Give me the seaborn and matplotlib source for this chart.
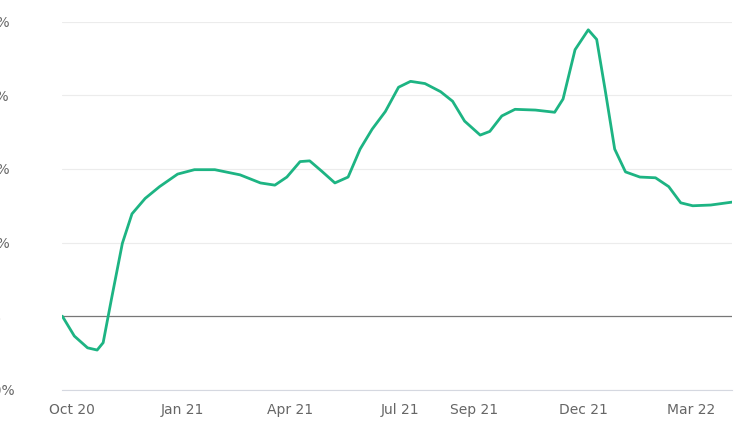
import pandas as pd
import numpy as np
import seaborn as sns
import matplotlib.pyplot as plt
import matplotlib.dates as mdates
from matplotlib.ticker import FuncFormatter

# values
dates = ['2020-09-23', '2020-10-03', '2020-10-14', '2020-10-22', '2020-10-27', '2020-11-03',
         '2020-11-12', '2020-11-20', '2020-12-01', '2020-12-13', '2020-12-28', '2021-01-11',
         '2021-01-28', '2021-02-18', '2021-03-07', '2021-03-19', '2021-03-29', '2021-04-09',
         '2021-04-17', '2021-04-27', '2021-05-08', '2021-05-19', '2021-05-29', '2021-06-08',
         '2021-06-19', '2021-06-30', '2021-07-10', '2021-07-22', '2021-08-04', '2021-08-14',
         '2021-08-24', '2021-09-06', '2021-09-14', '2021-09-24', '2021-10-05', '2021-10-22',
         '2021-11-07', '2021-11-14', '2021-11-24', '2021-12-05', '2021-12-12', '2021-12-19',
         '2021-12-27', '2022-01-05', '2022-01-17', '2022-01-30', '2022-02-10', '2022-02-20',
         '2022-03-02', '2022-03-17', '2022-04-04']
values = [0, -2.7, -4.3, -4.6, -3.6, 2.4, 9.9, 13.9, 16, 17.6, 19.3, 19.9,
          19.9, 19.2, 18.1, 17.8, 18.9, 21, 21.1, 19.7, 18.1, 18.9, 22.7, 25.4,
          27.8, 31.1, 31.9, 31.6, 30.5, 29.2, 26.5, 24.6, 25.1, 27.2, 28.1, 28,
          27.7, 29.5, 36.2, 38.9, 37.6, 30.8, 22.7, 19.6, 18.9, 18.8, 17.6, 15.4,
          15, 15.1, 15.5]
tick_dates = ['2020-10-01', '2021-01-01', '2021-04-01', '2021-07-01', '2021-09-01', '2021-12-01', '2022-03-01']
tick_labels = ['Oct 20', 'Jan 21', 'Apr 21', 'Jul 21', 'Sep 21', 'Dec 21', 'Mar 22']
y_ticks = [-10, 0, 10, 20, 30, 40]

df = pd.DataFrame({'date': pd.to_datetime(dates), 'value': values})

sns.set_style('white')
fig = plt.figure(figsize=(7.42, 4.26), dpi=100)
ax = fig.add_axes([0.084, 0.085, 0.903, 0.864])

for t in y_ticks:
    ax.axhline(t, color='#777777' if t == 0 else '#ececec', lw=0.9 if t == 0 else 0.8, zorder=0)

sns.lineplot(data=df, x='date', y='value', ax=ax, color='#1db483', lw=2.0,
             solid_joinstyle='round', solid_capstyle='round')

ax.set_xlim(df['date'].iloc[0], df['date'].iloc[-1])
ax.set_ylim(-10, 40)
ax.set_yticks(y_ticks)
ax.yaxis.set_major_formatter(FuncFormatter(lambda v, p: f'{v:.0f}%'))
for lab in ax.get_yticklabels():
    lab.set_horizontalalignment('left')
ax.set_xticks(pd.to_datetime(tick_dates))
ax.set_xticklabels(tick_labels)
ax.set_xlabel('')
ax.set_ylabel('')

for s in ['top', 'right', 'left']:
    ax.spines[s].set_visible(False)
ax.spines['bottom'].set_color('#d5d8e0')
ax.tick_params(axis='x', colors='#d5d8e0', labelcolor='#666666', length=6, labelsize=10)
ax.tick_params(axis='y', length=0, labelcolor='#666666', labelsize=10, pad=60)

fig.savefig('out.png', dpi=100)
